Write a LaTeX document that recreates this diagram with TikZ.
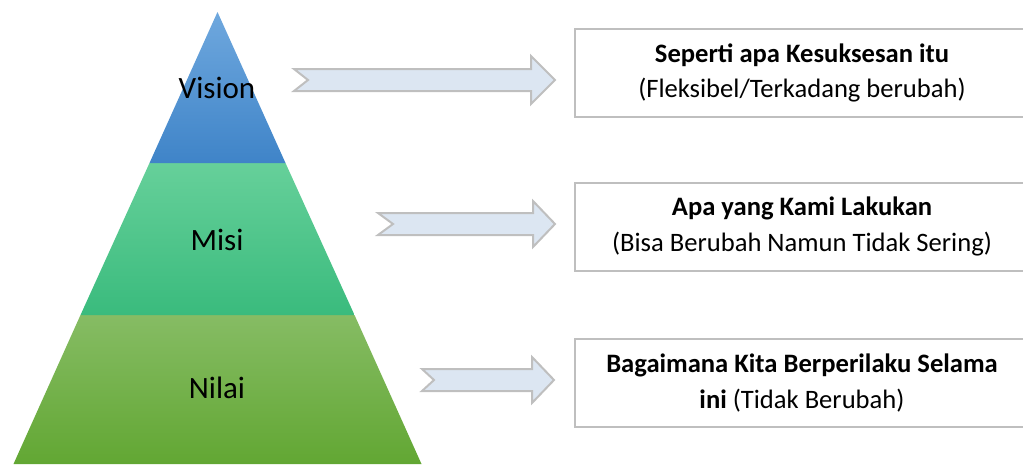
\documentclass[tikz,border=0pt]{standalone}
\usepackage{fontspec}
\setmainfont{Carlito}
\definecolor{boxgray}{HTML}{BFBFBF}
\definecolor{arrowfill}{HTML}{DCE6F2}
\definecolor{blueT}{HTML}{6FA8DE}
\definecolor{blueB}{HTML}{3F84C8}
\definecolor{greenT}{HTML}{66D09A}
\definecolor{greenB}{HTML}{3ABB7D}
\definecolor{oliveT}{HTML}{86BC64}
\definecolor{oliveB}{HTML}{62A733}
\tikzset{
  lbl/.style={font=\fontsize{31}{37}\selectfont, text=black, inner sep=0pt},
  infobox/.style={draw=boxgray, line width=2pt, fill=white, minimum width=454pt, minimum height=88pt, align=center, font=\fontsize{26.6}{35.5}\selectfont, inner sep=4pt},
  blockarrow/.style={draw=boxgray, line width=2pt, fill=arrowfill, line join=miter},
}
\begin{document}
\begin{tikzpicture}[x=1pt,y=-1pt]
\useasboundingbox (0,0) rectangle (1023,464);
\clip (0,0) rectangle (1023,464);
% pyramid layers
\shade[top color=oliveT, bottom color=oliveB] (80.5,315) -- (354.5,315) -- (421.5,464) -- (13.5,464) -- cycle;
\shade[top color=greenT, bottom color=greenB] (149.5,163) -- (285.5,163) -- (354.5,315) -- (80.5,315) -- cycle;
\shade[top color=blueT, bottom color=blueB] (217.5,12) -- (285.5,163) -- (149.5,163) -- cycle;
\node[lbl] (vision) at (217,88) {Vision};
\node[lbl] (misi) at (217,240) {Misi};
\node[lbl] (nilai) at (217,388) {Nilai};
% block arrows
\draw[blockarrow] (294,69) -- (531,69) -- (531,56) -- (555,80) -- (531,104) -- (531,91) -- (294,91) -- (308,80) -- cycle;
\draw[blockarrow] (378,213) -- (533,213) -- (533,201) -- (555,224) -- (533,247) -- (533,235) -- (378,235) -- (393,224) -- cycle;
\draw[blockarrow] (422,369) -- (532,369) -- (532,357) -- (554,380) -- (532,403) -- (532,391) -- (422,391) -- (434,380) -- cycle;
% boxes
\node[infobox] (box1) at (802,73) {\textbf{Seperti apa Kesuksesan itu}\\(Fleksibel/Terkadang berubah)};
\node[infobox] (box2) at (802,226.5) {\textbf{Apa yang Kami Lakukan}\\(Bisa Berubah Namun Tidak Sering)};
\node[infobox] (box3) at (802,383) {\textbf{Bagaimana Kita Berperilaku Selama}\\\textbf{ini} (Tidak Berubah)};
\end{tikzpicture}
\end{document}
